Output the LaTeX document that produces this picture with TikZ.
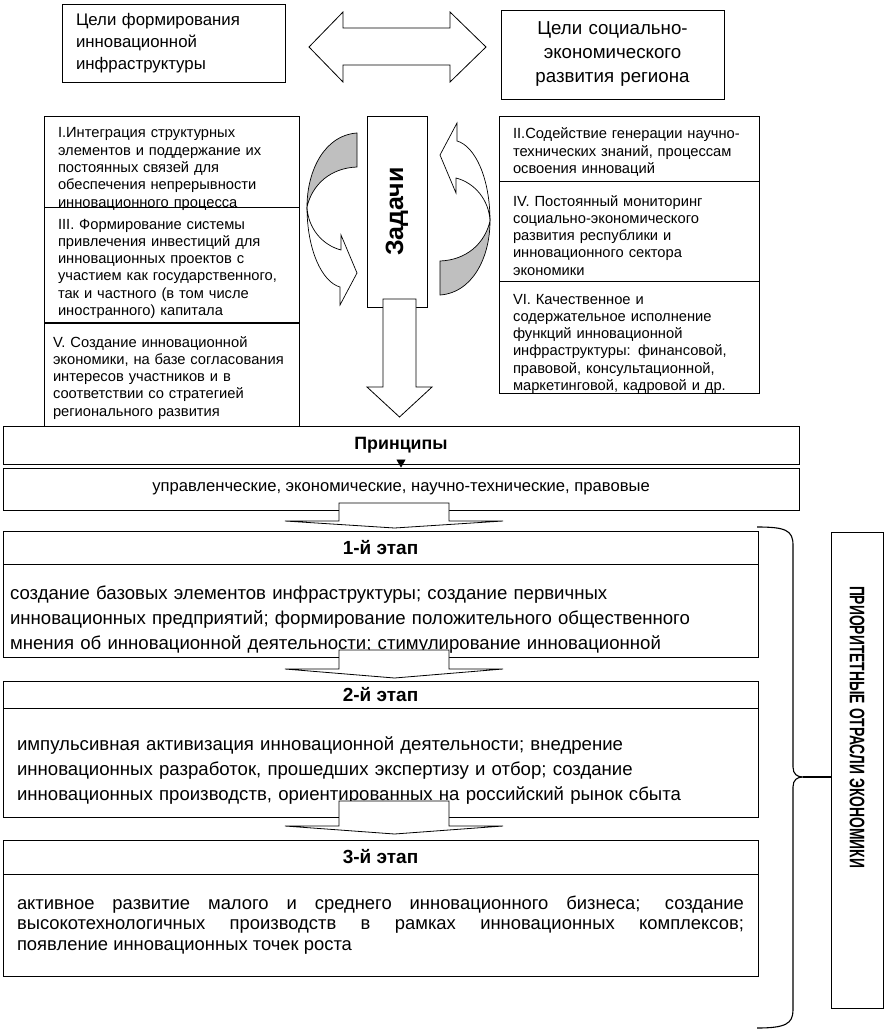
\documentclass[tikz,border=0pt]{standalone}
\usepackage{fontspec}
\setmainfont{Liberation Sans}
\newfontfamily\narrowfont[FakeStretch=0.66]{Liberation Sans}
\usetikzlibrary{arrows.meta}

\begin{document}
\begin{tikzpicture}[x=1pt, y=-1pt, line width=0.9pt,
    goalbox/.style={draw, minimum width=223pt, inner sep=2pt},
    taskbox/.style={draw, minimum width=255pt, text width=227pt, align=left, inner sep=2pt, font=\fontsize{14.7}{17.3}\selectfont},
    taskboxr/.style={taskbox, minimum width=260pt, text width=232pt},
    textdown/.style={text height=0pt, text depth=#1},
    widebox/.style={draw, minimum width=796pt, inner sep=2pt},
    stagehead/.style={draw, minimum width=755pt, inner sep=2pt, font=\bfseries\fontsize{19}{22}\selectfont},
    stagebody/.style={draw, minimum width=755pt, text width=727pt, align=left, inner sep=2pt, font=\fontsize{18.6}{25}\selectfont},
    blockarrow/.style={draw, fill=white, line width=0.8pt}]

    \useasboundingbox (0,0) rectangle (884,1035);

    % goals
    \node[goalbox, minimum height=78pt, text width=195pt, align=left, font=\fontsize{16.8}{22}\selectfont] (goalL) at (173.5,43) {Цели формирования\\инновационной\\инфраструктуры};
    \node[goalbox, minimum height=89pt, text width=205pt, align=center, font=\fontsize{18.7}{24}\selectfont] (goalR) at (612.5,54.5) {Цели социально-\\экономического\\развития региона};
    \filldraw[blockarrow] (309,47) -- (343,12) -- (343,28) -- (450,28) -- (450,12) -- (486,47) -- (450,82) -- (450,65) -- (343,65) -- (343,82) -- cycle;

    % tasks, left column
    \node[taskbox, minimum height=91pt, textdown=47pt] (taskI) at (171.5,161.5) {I.Интеграция структурных\\элементов и поддержание их\\постоянных связей для\\обеспечения непрерывности\\инновационного процесса};
    \node[taskbox, minimum height=115pt, textdown=71pt] (taskIII) at (171.5,264.5) {III. Формирование системы\\привлечения инвестиций для\\инновационных проектов с\\участием как государственного,\\так и частного (в том числе\\иностранного) капитала};
    \node[taskbox, minimum height=103pt, text width=237pt, textdown=55pt] (taskV) at (171.5,374.5) {V. Создание инновационной\\экономики, на базе согласования\\интересов участников и в\\соответствии со стратегией\\регионального развития};

    % tasks, right column
    \node[taskboxr, minimum height=65pt, textdown=19pt] (taskII) at (629,148.5) {II.Содействие генерации научно-\\технических знаний, процессам\\освоения инноваций};
    \node[taskboxr, minimum height=100pt, textdown=50pt] (taskIV) at (629,231) {IV. Постоянный мониторинг\\социально-экономического\\развития республики и\\инновационного сектора\\экономики};
    \node[taskboxr, minimum height=112pt, textdown=66pt] (taskVI) at (629,337) {VI. Качественное и\\содержательное исполнение\\функций инновационной\\инфраструктуры: финансовой,\\правовой, консультационной,\\маркетинговой, кадровой и др.};

    % Задачи
    \node[draw, rotate=90, minimum width=191pt, minimum height=60pt, inner sep=0pt, font=\bfseries\fontsize{25}{28}\selectfont] (zad) at (397,211.5) {Задачи};
    \foreach \a in {0,180}{
        \begin{scope}[rotate around={\a:(398.5,214)}]
            \filldraw[fill=black!25, line width=0.7pt] (357,133) .. controls (325,135) and (307,170) .. (307,207) .. controls (312,185) and (330,168) .. (357,167) -- cycle;
            \filldraw[fill=white, line width=0.7pt] (307,207) .. controls (307,250) and (322,282) .. (340,287) -- (340,305) -- (357,273) -- (341,235) -- (341,250) .. controls (322,245) and (308,228) .. (307,207) -- cycle;
        \end{scope}
    }
    \filldraw[blockarrow] (383,299) -- (416,299) -- (416,387) -- (432,387) -- (399.5,417) -- (367,387) -- (383,387) -- cycle;

    % principles
    \node[widebox, minimum height=38pt, font=\bfseries\fontsize{17.8}{20}\selectfont] (princ) at (401,445) {Принципы};
    \node[widebox, minimum height=42pt, font=\fontsize{16.6}{20}\selectfont] (upr) at (401,489) {управленческие, экономические, научно-технические, правовые};
    \draw[-{Triangle[width=9pt,length=8pt]}, line width=0.6pt] (princ.south) -- (upr.north);

    % stages
    \node[stagehead, minimum height=33pt] (st1h) at (380.5,547.5) {1-й этап};
    \node[stagebody, minimum height=93pt, text width=741pt, textdown=22pt] (st1) at (380.5,610.5) {создание базовых элементов инфраструктуры; создание первичных\\инновационных предприятий; формирование положительного общественного\\мнения об инновационной деятельности; стимулирование инновационной};
    \node[stagehead, minimum height=27pt] (st2h) at (380.5,694.5) {2-й этап};
    \node[stagebody, minimum height=109pt, textdown=24pt] (st2) at (380.5,762.5) {импульсивная активизация инновационной деятельности; внедрение\\инновационных разработок, прошедших экспертизу и отбор; создание\\инновационных производств, ориентированных на российский рынок сбыта};
    \node[stagehead, minimum height=34pt] (st3h) at (380.5,857) {3-й этап};
    \node[stagebody, minimum height=102pt, align=justify, font=\fontsize{18.4}{20.5}\selectfont] (st3) at (380.5,925) {активное развитие малого и среднего инновационного бизнеса; создание\linebreak высокотехнологичных производств в рамках инновационных комплексов;\linebreak появление инновационных точек роста};

    \filldraw[blockarrow] (339,503) -- (339,521) -- (285,521) -- (394.5,528) -- (503,521) -- (449,521) -- (449,503) -- cycle;
    \filldraw[blockarrow] (339,650) -- (339,669) -- (285,669) -- (394.5,678) -- (503,669) -- (449,669) -- (449,650) -- cycle;
    \filldraw[blockarrow] (339,801) -- (339,826) -- (285,826) -- (394.5,834) -- (503,826) -- (449,826) -- (449,801) -- cycle;

    % priorities
    \node[draw, minimum width=52pt, minimum height=476pt] (prio) at (857,770) {};
    \node[rotate=-90, font=\narrowfont\bfseries\fontsize{21}{24}\selectfont] (priotext) at (857,727) {ПРИОРИТЕТНЫЕ ОТРАСЛИ ЭКОНОМИКИ};
    \coordinate (brtip) at (803,777);
    \draw[line width=1.1pt] (757,527) .. controls (785,527) and (793,530) .. (793,545) -- (793,767) .. controls (793,774) and (797,777) .. (brtip) .. controls (797,777) and (793,780) .. (793,787) -- (793,1010) .. controls (793,1024) and (785,1028) .. (757,1028);
    \draw[line width=1.1pt] (brtip) -- (brtip -| prio.west);
\end{tikzpicture}
\end{document}
